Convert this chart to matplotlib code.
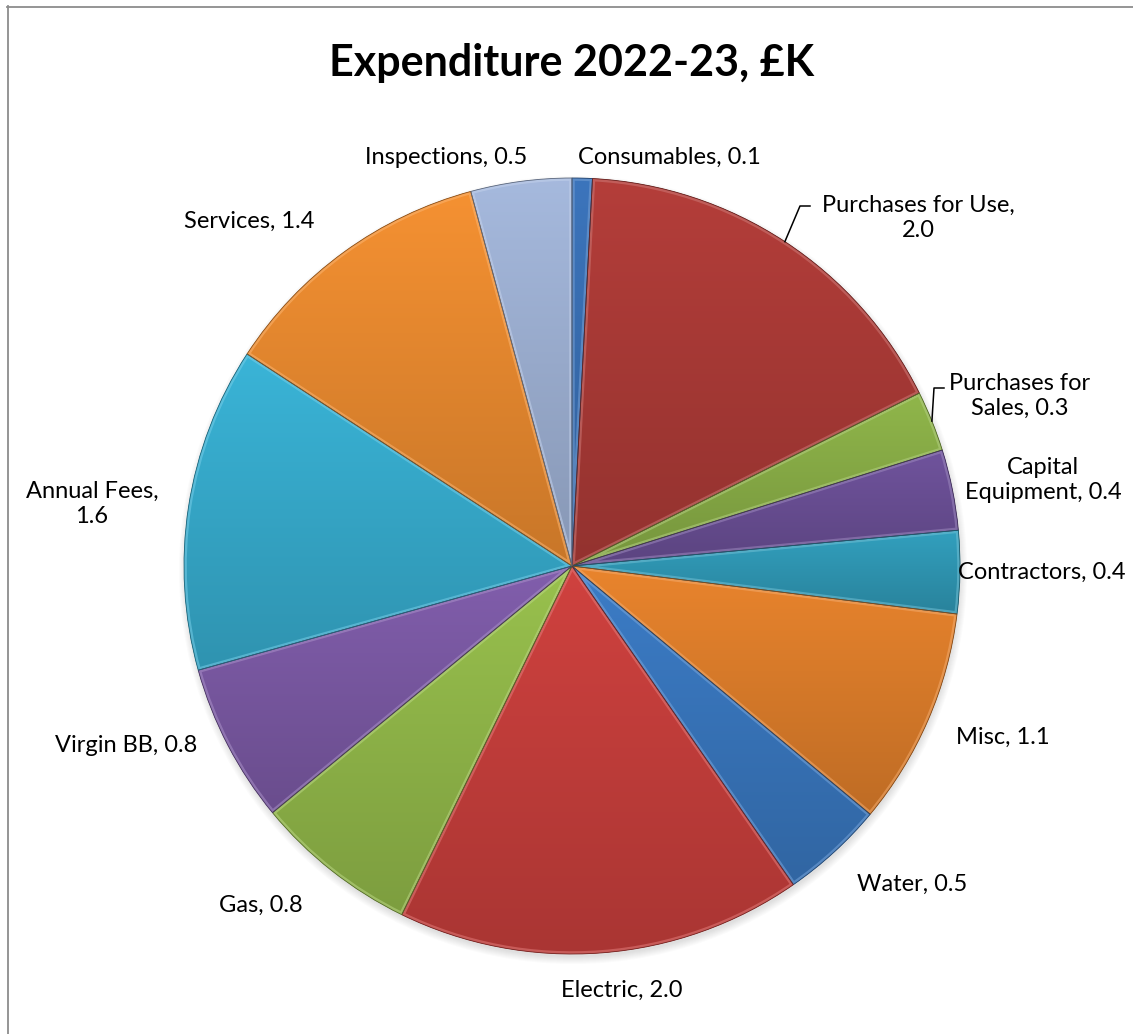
import numpy as np
import matplotlib
matplotlib.use("Agg")
import matplotlib.pyplot as plt
from matplotlib.patches import Wedge, Circle
from matplotlib.colors import to_rgb
from matplotlib.lines import Line2D

# data (£K)
categories = ["Consumables", "Purchases for Use", "Purchases for Sales", "Capital Equipment",
              "Contractors", "Misc", "Water", "Electric", "Gas", "Virgin BB",
              "Annual Fees", "Services", "Inspections"]
values = [0.10, 2.00, 0.30, 0.40, 0.41, 1.08, 0.51, 2.01, 0.81, 0.79, 1.61, 1.38, 0.50]
colors = ["#3D77C0", "#B83F3B", "#93BA4C", "#7255A0", "#33A3C2", "#EE872E", "#3D7FCB",
          "#D44340", "#9CC54F", "#8460B0", "#3BB8DC", "#FA9433", "#A9BDE2"]
title = "Expenditure 2022-23, £K"

# label text layout (line breaks as in the chart) and position in pixels
label_text = ["Consumables, {}", "Purchases for Use,\n{}", "Purchases for\nSales, {}",
              "Capital\nEquipment, {}", "Contractors, {}", "Misc, {}", "Water, {}",
              "Electric, {}", "Gas, {}", "Virgin BB, {}", "Annual Fees,\n{}",
              "Services, {}", "Inspections, {}"]
label_pos = [(669, 157), (918, 218), (1020, 396), (1043, 480), (1042, 572), (1003, 737),
             (912, 884), (622, 990), (261, 905), (126, 745), (92, 504), (249, 221), (446, 158)]
leaders = {1: (800, 206), 2: (934, 388)}

W, H = 1133, 1034
cx, cy, R = 572, H - 566, 388

plt.rcParams['font.family'] = ['Lato', 'DejaVu Sans']

fig = plt.figure(figsize=(W / 100, H / 100), dpi=100)
ax = fig.add_axes([0, 0, 1, 1])
ax.axis('off')

wedges, _ = ax.pie(values, colors=colors, startangle=90, counterclock=False,
                   center=(cx, cy), radius=R, wedgeprops=dict(linewidth=0))


def shade(c, f):
    c = np.array(to_rgb(c))
    if f > 0:
        return c + (1 - c) * f
    return c * (1 + f)


# soft shadow under the pie
for k in range(8):
    ax.add_patch(Circle((cx + 1, cy - 4), R + 6 - k, color='#606060', alpha=0.025, lw=0, zorder=0.5))

for i, (w, c) in enumerate(zip(wedges, colors)):
    th = np.radians(np.linspace(w.theta1, w.theta2, 100))
    xs = np.r_[cx, cx + R * np.cos(th)]
    ys = np.r_[cy, cy + R * np.sin(th)]
    x0, x1, y0, y1 = xs.min(), xs.max(), ys.min(), ys.max()
    t = np.linspace(0, 1, 256)[:, None, None]
    img = shade(c, -0.02) * (1 - t) + shade(c, -0.2) * t
    w.set_facecolor(c)
    w.set_zorder(1)
    im = ax.imshow(img, extent=(x0, x1, y0, y1), origin='upper', aspect='auto',
                   interpolation='bilinear', zorder=2)
    im.set_clip_path(w)
    # bevel: light inner stroke + dark outline
    hl = Wedge((cx, cy), R, w.theta1, w.theta2, facecolor='none',
               edgecolor=shade(c, 0.3), lw=4, alpha=0.55, zorder=3)
    ax.add_patch(hl)
    hl.set_clip_path(w)
    ax.add_patch(Wedge((cx, cy), R, w.theta1, w.theta2, facecolor='none',
                       edgecolor=shade(c, -0.45), lw=0.6, zorder=4))

# data labels
for i, (txt, v, (px, py)) in enumerate(zip(label_text, values, label_pos)):
    ax.text(px, H - py, txt.format(f"{v:.1f}"), ha='center', va='center',
            fontsize=17, color='black', linespacing=1.25, zorder=5)
    if i in leaders:
        w = wedges[i]
        mid = np.radians((w.theta1 + w.theta2) / 2)
        sx, sy = cx + R * np.cos(mid), cy + R * np.sin(mid)
        lx, ly = leaders[i]
        ax.plot([sx, lx, lx + 10], [sy, H - ly, H - ly], color='black', lw=1.1, zorder=5)

ax.text(572, H - 63, title, ha='center', va='center', fontsize=31, fontweight='bold')

ax.set_xlim(0, W)
ax.set_ylim(0, H)
ax.set_aspect('auto')

# chart area border (left and top edges visible)
fig.add_artist(Line2D([7.5 / W, 7.5 / W], [0, 1 - 6 / H], color='#8C8C8C', lw=1.3))
fig.add_artist(Line2D([7 / W, 1], [1 - 6.5 / H, 1 - 6.5 / H], color='#8C8C8C', lw=1.3))

fig.savefig('out.png', dpi=100, facecolor='white')
